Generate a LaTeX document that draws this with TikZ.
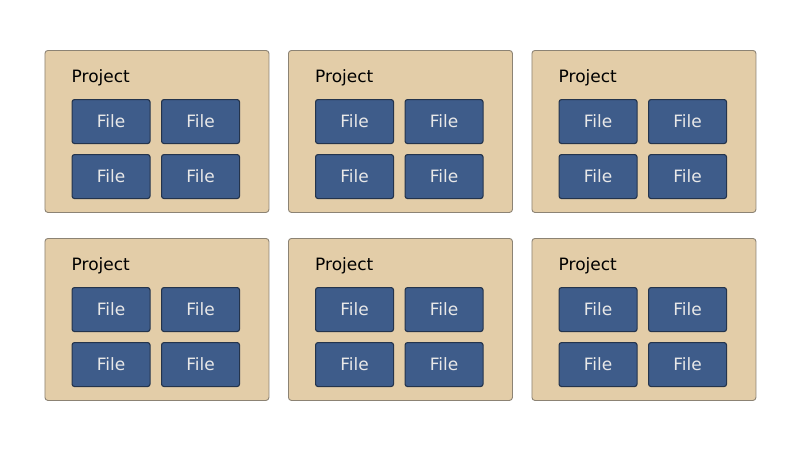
\documentclass[tikz,border=0pt]{standalone}
\usepackage{fontspec}
\setmainfont{DejaVu Sans}
\usetikzlibrary{positioning}

\definecolor{projfill}{HTML}{E3CDA8}
\definecolor{projline}{HTML}{8C8374}
\definecolor{filefill}{HTML}{3E5C8A}
\definecolor{fileline}{HTML}{24344C}
\definecolor{filetext}{HTML}{E8E8E8}

\tikzset{
	projbox/.style={draw=projline, fill=projfill, line width=0.9pt, rounded corners=3pt,
		minimum width=224pt, minimum height=162pt, inner sep=0pt, anchor=north west},
	projlabel/.style={anchor=base west, inner sep=0pt, font=\fontsize{17}{20}\selectfont},
	filebox/.style={draw=fileline, fill=filefill, line width=1.1pt, rounded corners=2.5pt,
		minimum width=78pt, minimum height=44pt, inner sep=0pt, anchor=north west,
		text=filetext, font=\fontsize{17}{20}\selectfont}
}

\begin{document}
\begin{tikzpicture}[x=1pt, y=-1pt]
			\useasboundingbox (0,0) rectangle (800,450);
			
			\foreach \r in {0, 1}
			\foreach \c in {0, 1, 2} {
				\node[projbox] (p-\r-\c) at (44.5+243.5*\c, 50+188*\r) {};
				\node[projlabel] (pl-\r-\c) at (71.5+243.5*\c, 82.5+188*\r) {Project};
				\foreach \i in {0, 1}
				\foreach \j in {0, 1}
				\node[filebox] (f-\r-\c-\i-\j) at (71.5+243.5*\c+89.5*\j, 99+188*\r+55*\i) {File};
			}
			\end{tikzpicture}
\end{document}
